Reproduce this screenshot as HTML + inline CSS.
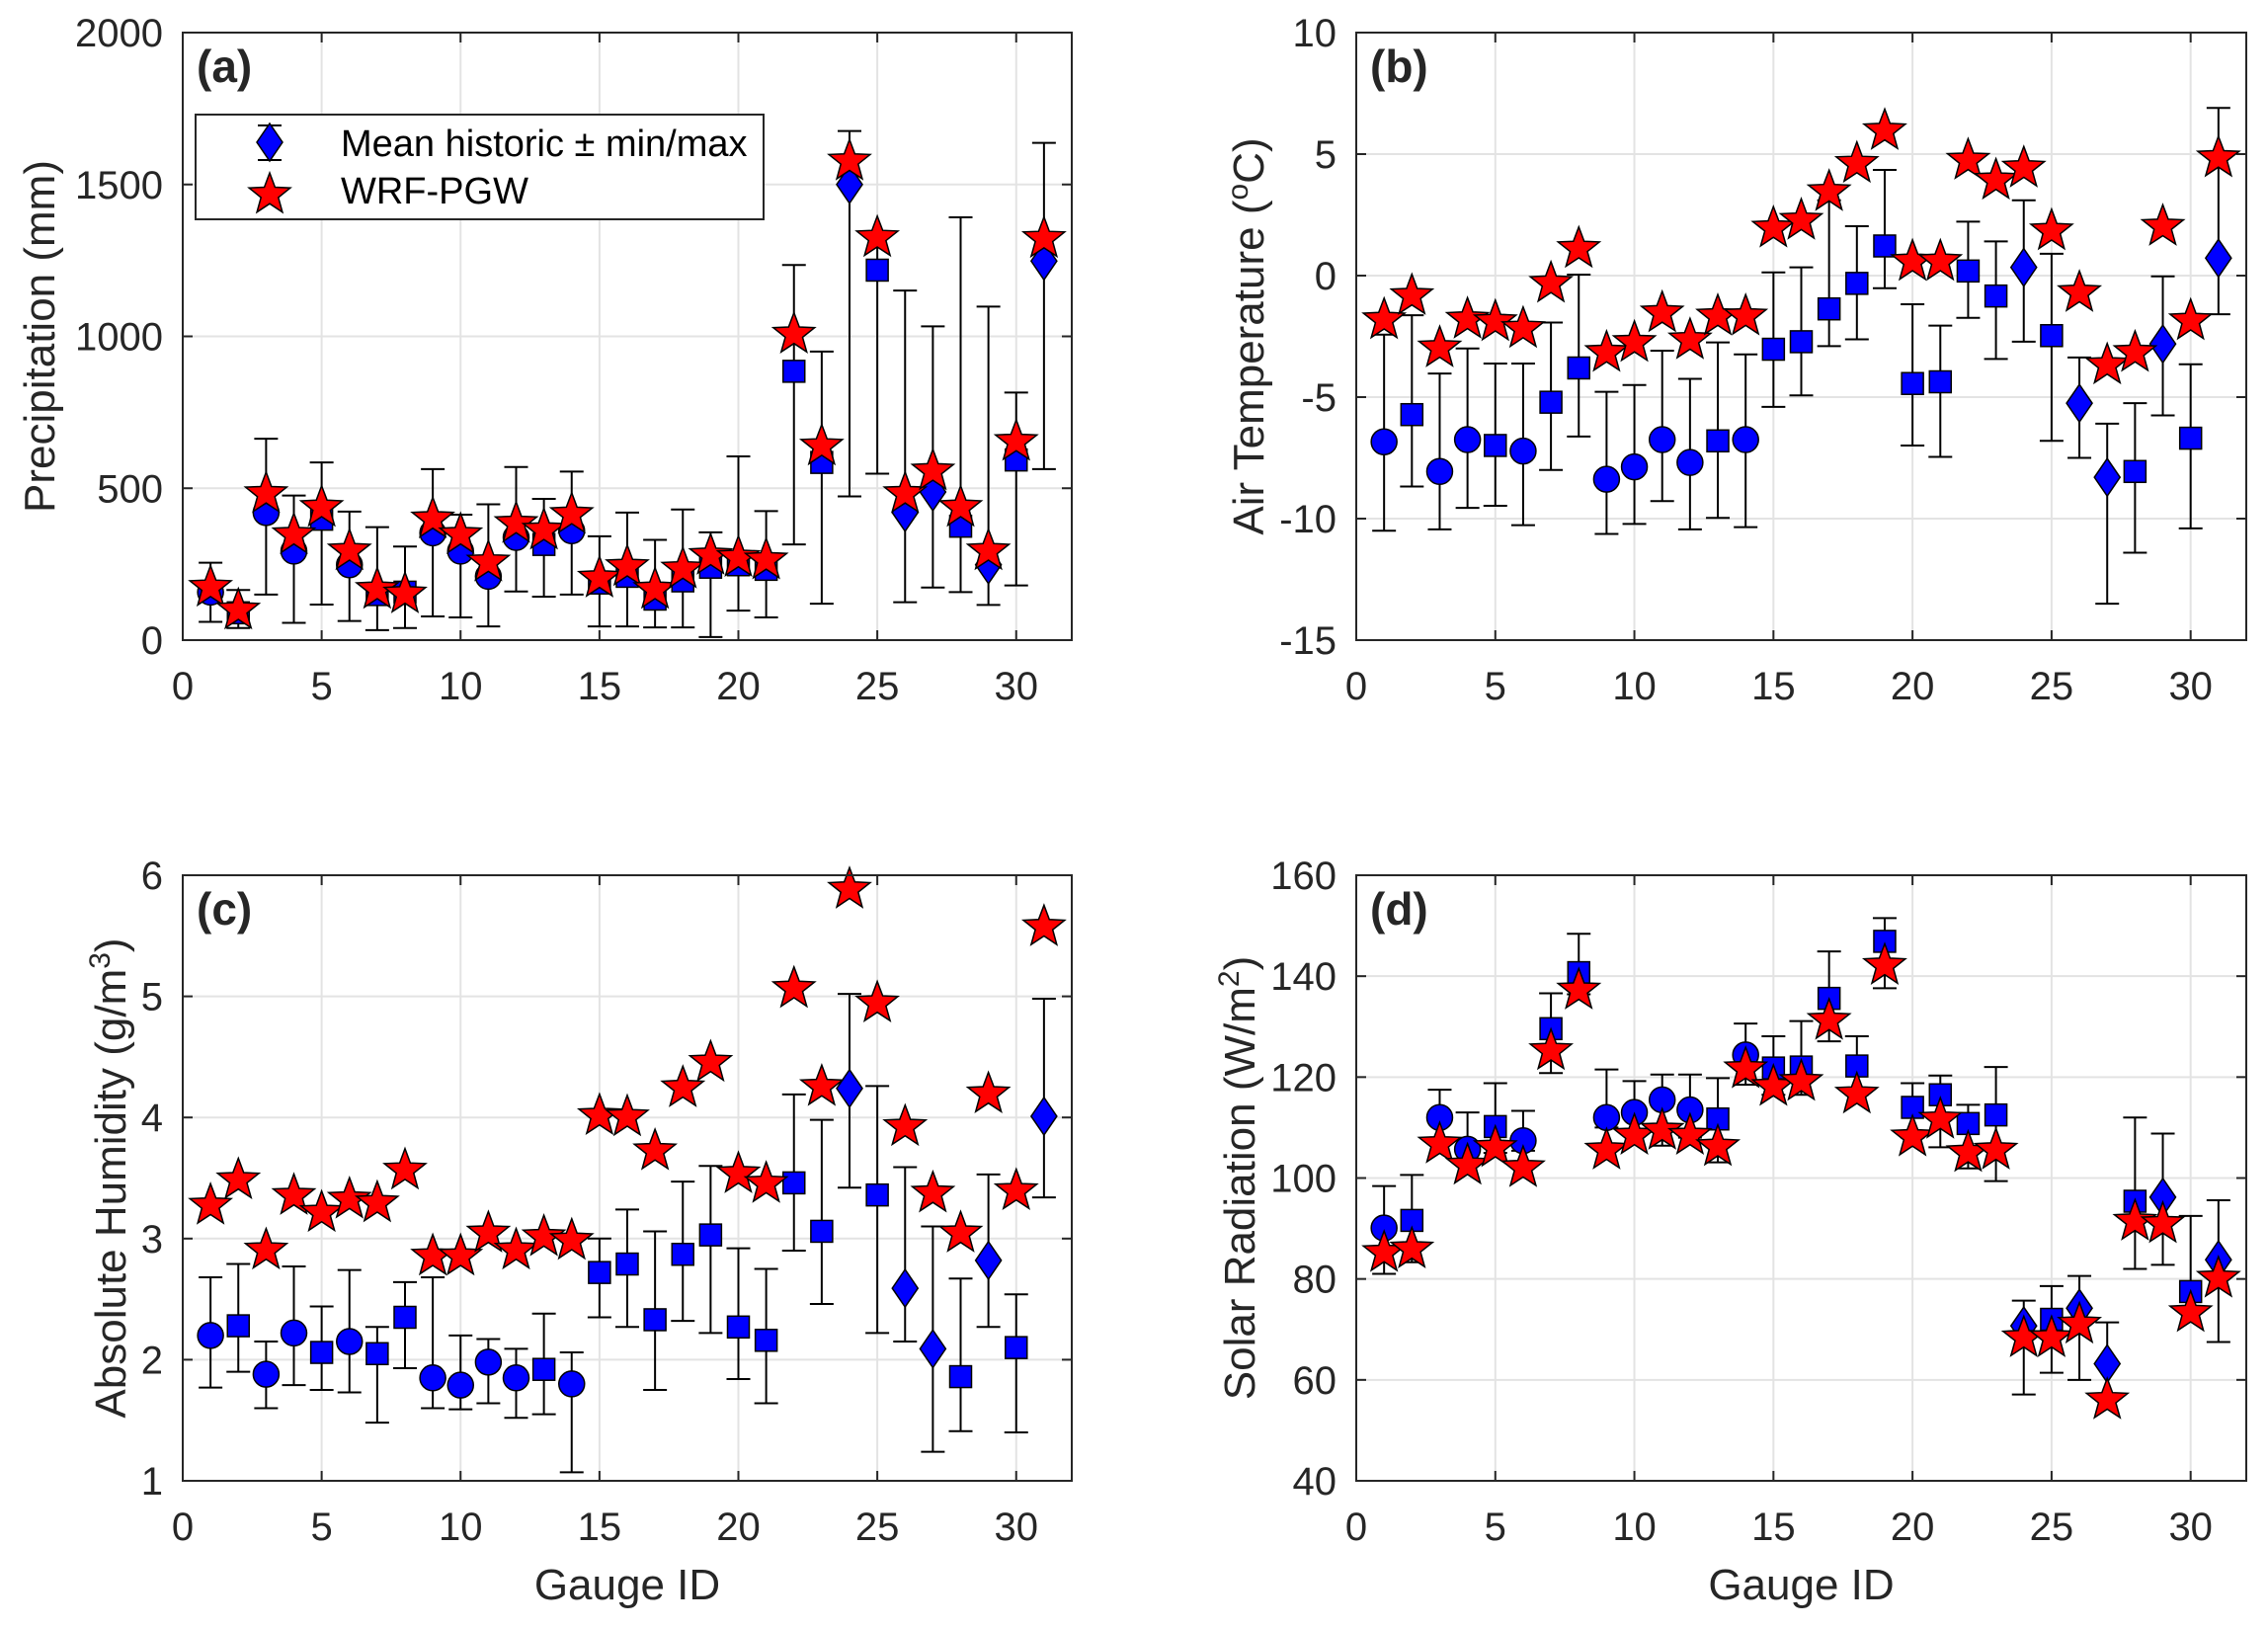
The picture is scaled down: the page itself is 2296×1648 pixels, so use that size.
<!DOCTYPE html>
<html><head><meta charset="utf-8"><style>
html,body{margin:0;padding:0;background:#fff;}
svg{display:block;font-family:"Liberation Sans",Arial,sans-serif;}
</style></head><body>
<svg id="fig" xmlns="http://www.w3.org/2000/svg" width="2296" height="1648" viewBox="0 0 2296 1648"></svg>
<script>
const gaugeIds=[1,2,3,4,5,6,7,8,9,10,11,12,13,14,15,16,17,18,19,20,21,22,23,24,25,26,27,28,29,30,31];
const markerTypes=['o','s','o','o','s','o','s','s','o','o','o','o','s','o','s','s','s','s','s','s','s','s','s','d','s','d','d','s','d','s','d'];

const precipMean=[158,90,420,293,398,248,150,158,353,293,210,338,315,360,188,210,135,195,240,248,233,885,585,1500,1218,420,488,375,248,593,1248];
const precipWrf=[180,105,488,353,443,300,173,158,405,353,263,390,368,420,210,248,173,240,285,278,270,1013,645,1583,1331,488,563,443,300,660,1328];
const precipHi=[255,165,663,476,585,423,372,308,563,413,447,570,465,555,342,420,330,430,355,605,425,1235,950,1676,1340,1151,1033,1392,1098,815,1637];
const precipLo=[60,40,150,57,117,63,33,40,78,75,45,160,143,150,45,45,42,42,10,97,75,315,120,473,548,125,173,158,116,180,563];

const tempMean=[-6.84,-5.72,-8.06,-6.75,-6.99,-7.22,-5.21,-3.8,-8.38,-7.87,-6.75,-7.69,-6.8,-6.75,-3.03,-2.72,-1.37,-0.32,1.22,-4.44,-4.37,0.19,-0.84,0.34,-2.47,-5.25,-8.3,-8.06,-2.81,-6.69,0.72];
const tempWrf=[-1.74,-0.75,-2.9,-1.72,-1.82,-2.1,-0.24,1.19,-3.09,-2.68,-1.46,-2.57,-1.59,-1.59,2.03,2.35,3.53,4.69,6.04,0.66,0.66,4.82,4.0,4.5,1.92,-0.62,-3.6,-3.09,2.1,-1.78,4.92];
const tempHi=[-2.43,-1.63,-4.03,-3.0,-3.62,-3.62,-1.93,0.04,-4.78,-4.5,-3.09,-4.25,-2.75,-3.24,0.13,0.34,3.1,2.03,4.35,-1.18,-2.06,2.22,1.41,3.1,0.9,-3.37,-6.09,-5.25,-0.03,-3.65,6.9];
const tempLo=[-10.5,-8.68,-10.44,-9.56,-9.47,-10.27,-8.0,-6.62,-10.63,-10.22,-9.28,-10.44,-9.97,-10.35,-5.4,-4.93,-2.9,-2.62,-0.52,-6.99,-7.46,-1.74,-3.43,-2.72,-6.8,-7.5,-13.5,-11.4,-5.75,-10.4,-1.59];

const humMean=[2.2,2.28,1.88,2.22,2.06,2.15,2.05,2.35,1.85,1.79,1.98,1.85,1.92,1.8,2.72,2.79,2.33,2.87,3.03,2.27,2.16,3.46,3.06,4.24,3.36,2.59,2.09,1.86,2.82,2.1,4.01];
const humWrf=[3.29,3.5,2.92,3.37,3.23,3.34,3.31,3.58,2.87,2.87,3.06,2.92,3.03,3.0,4.03,4.02,3.74,4.26,4.47,3.55,3.47,5.08,4.27,5.9,4.96,3.94,3.39,3.06,4.21,3.41,5.59];
const humHi=[2.68,2.79,2.15,2.77,2.44,2.74,2.27,2.64,2.68,2.2,2.17,2.09,2.38,2.06,3.0,3.24,3.06,3.47,3.6,2.92,2.75,4.19,3.98,5.02,4.26,3.59,3.1,2.67,3.53,2.54,4.98];
const humLo=[1.77,1.9,1.6,1.79,1.75,1.73,1.48,1.93,1.6,1.59,1.64,1.52,1.55,1.07,2.35,2.27,1.75,2.32,2.22,1.84,1.64,2.9,2.46,3.42,2.22,2.15,1.24,1.41,2.27,1.4,3.34];

const solMean=[90.1,91.6,112,105.7,110.2,107.4,129.6,140.7,112,113,115.5,113.5,111.7,124.4,121.8,122,135.6,122.2,146.9,114,116.5,110.8,112.5,70.7,72,74.2,63.2,95.4,96.2,77.5,83.8];
const solWrf=[85.6,86.3,107.1,102.9,106.4,102.4,125.6,137.6,105.9,108.8,109.8,108.8,106.6,122,118.5,119.5,131.6,117,142.5,108.5,112,105.4,105.9,68.7,68.7,71.4,56.4,91.8,91.3,73.7,80.5];
const solHi=[98.4,100.6,117.5,113,118.8,113.3,136.6,148.4,121.5,119.2,120.5,120.5,119.8,130.6,128.1,131.1,144.9,128.1,151.5,118.8,120.3,114.5,122,75.7,78.6,80.6,71.4,112,108.8,92.5,95.6];
const solLo=[81,83.3,108,103,105,105.4,120.8,136.4,110,108.7,106.4,108,103.1,118.5,116.5,116.5,127.1,116.5,137.6,108,106.1,101.9,99.4,57.1,61.4,60,56.1,82,82.8,73.7,67.5];

const xTicks=[0,5,10,15,20,25,30];
const ticksA=[0,500,1000,1500,2000];
const ticksB=[-15,-10,-5,0,5,10];
const ticksC=[1,2,3,4,5,6];
const ticksD=[40,60,80,100,120,140,160];

const NS='http://www.w3.org/2000/svg';
const svg=document.getElementById('fig');
function mk(tag,attrs,parent){const e=document.createElementNS(NS,tag);for(const k in attrs)e.setAttribute(k,attrs[k]);(parent||svg).appendChild(e);return e;}

function star(cx,cy,R){const r=R*0.42;let p=[];for(let i=0;i<10;i++){const a=-Math.PI/2+i*Math.PI/5;const rr=i%2?r:R;p.push((cx+rr*Math.cos(a)).toFixed(1)+','+(cy+rr*Math.sin(a)).toFixed(1));}return p.join(' ');}

function drawPanel(key,box,ymin,ymax,yTicks,mean,wrf,lo,hi,letter,titleParts,titleX,showX){
  const g=mk('g',{});
  
  
  const xs=v=>box.l+(v-0)/(32-0)*(box.r-box.l);
  const ys=v=>box.b-(v-ymin)/(ymax-ymin)*(box.b-box.t);
  mk('rect',{x:box.l,y:box.t,width:box.r-box.l,height:box.b-box.t,fill:'#fff'},g);
  // grid
  xTicks.forEach(t=>{const x=xs(t);const l=mk('line',{x1:x,x2:x,y1:box.t,y2:box.b,stroke:'#e3e3e3','stroke-width':2},g);
    });
  yTicks.forEach(t=>{const y=ys(t);const l=mk('line',{x1:box.l,x2:box.r,y1:y,y2:y,stroke:'#e3e3e3','stroke-width':2},g);
    });
  // ticks + labels
  xTicks.forEach(t=>{const x=xs(t);
    mk('line',{x1:x,x2:x,y1:box.b,y2:box.b-10,stroke:'#262626','stroke-width':2},g);
    mk('line',{x1:x,x2:x,y1:box.t,y2:box.t+10,stroke:'#262626','stroke-width':2},g);
    const tx=mk('text',{x:x,y:box.b+60,'font-size':40,'text-anchor':'middle',fill:'#262626'},g);tx.textContent=t;
    });
  yTicks.forEach(t=>{const y=ys(t);
    mk('line',{x1:box.l,x2:box.l+10,y1:y,y2:y,stroke:'#262626','stroke-width':2},g);
    mk('line',{x1:box.r,x2:box.r-10,y1:y,y2:y,stroke:'#262626','stroke-width':2},g);
    const tx=mk('text',{x:box.l-20,y:y+14,'font-size':40,'text-anchor':'end',fill:'#262626'},g);tx.textContent=t;
    });
  // error bars
  gaugeIds.forEach((id,i)=>{const x=xs(id);const yl=ys(lo[i]),yh=ys(hi[i]);
    const eb=mk('g',{stroke:'#000','stroke-width':2},g);
    
    mk('line',{x1:x,x2:x,y1:yl,y2:yh},eb);
    mk('line',{x1:x-12,x2:x+12,y1:yl,y2:yl},eb);
    mk('line',{x1:x-12,x2:x+12,y1:yh,y2:yh},eb);});
  // mean markers
  gaugeIds.forEach((id,i)=>{const x=xs(id),y=ys(mean[i]);let m;const t=markerTypes[i];
    if(t==='o')m=mk('circle',{cx:x,cy:y,r:13,fill:'#0000ff',stroke:'#000','stroke-width':1.5},g);
    else if(t==='s')m=mk('rect',{x:x-11,y:y-11,width:22,height:22,fill:'#0000ff',stroke:'#000','stroke-width':1.5},g);
    else m=mk('polygon',{points:`${x},${y-19} ${x+13},${y} ${x},${y+19} ${x-13},${y}`,fill:'#0000ff',stroke:'#000','stroke-width':1.5},g);
    });
  // WRF stars
  gaugeIds.forEach((id,i)=>{const s=mk('polygon',{points:star(xs(id),ys(wrf[i])+2,22),fill:'#ff0000',stroke:'#000','stroke-width':1.5},g);
    });
  mk('rect',{x:box.l,y:box.t,width:box.r-box.l,height:box.b-box.t,fill:'none',stroke:'#262626','stroke-width':2},g);
  const pl=mk('text',{x:box.l+14,y:box.t+50,'font-size':46,'font-weight':'bold',fill:'#262626'},g);pl.textContent=letter;
  
  const cy=(box.t+box.b)/2;
  const yt=mk('text',{x:titleX,y:cy,'font-size':44,'text-anchor':'middle',fill:'#262626',transform:`rotate(-90 ${titleX} ${cy})`},g);
  
  titleParts.forEach(p=>{const ts=mk('tspan',{},yt);ts.textContent=p[0];if(p[1]==='sup'){ts.setAttribute('baseline-shift','super');ts.setAttribute('font-size','30');}});
  if(showX){const xt=mk('text',{x:(box.l+box.r)/2,y:box.b+120,'font-size':44,'text-anchor':'middle',fill:'#262626'},g);xt.textContent='Gauge ID';
    }
  return g;
}

drawPanel('a',{l:185,r:1085,t:33,b:648},0,2000,ticksA,precipMean,precipWrf,precipLo,precipHi,'(a)',[['Precipitation (mm)']],55,false);
drawPanel('b',{l:1373,r:2274,t:33,b:648},-15,10,ticksB,tempMean,tempWrf,tempLo,tempHi,'(b)',[['Air Temperature ('],['o','sup'],['C)']],1279,false);
drawPanel('c',{l:185,r:1085,t:886,b:1499},1,6,ticksC,humMean,humWrf,humLo,humHi,'(c)',[['Absolute Humidity (g/m'],['3','sup'],[')']],127,true);
drawPanel('d',{l:1373,r:2274,t:886,b:1499},40,160,ticksD,solMean,solWrf,solLo,solHi,'(d)',[['Solar Radiation (W/m'],['2','sup'],[')']],1270,true);

// legend
const lg=mk('g',{});


mk('rect',{x:198,y:116,width:575,height:106,fill:'#fff',stroke:'#262626','stroke-width':2},lg);
const e1=mk('g',{},lg);


mk('line',{x1:273,x2:273,y1:127,y2:162,stroke:'#000','stroke-width':2},e1);
mk('line',{x1:261,x2:285,y1:127,y2:127,stroke:'#000','stroke-width':2},e1);
mk('line',{x1:261,x2:285,y1:162,y2:162,stroke:'#000','stroke-width':2},e1);
mk('polygon',{points:'273,125 286,144 273,163 260,144',fill:'#0000ff',stroke:'#000','stroke-width':1.5},e1);
const t1=mk('text',{x:345,y:158,'font-size':38,fill:'#000'},e1);t1.textContent='Mean historic \u00b1 min/max';
const e2=mk('g',{},lg);


mk('polygon',{points:star(273,197,22),fill:'#ff0000',stroke:'#000','stroke-width':1.5},e2);
const t2=mk('text',{x:345,y:206,'font-size':38,fill:'#000'},e2);t2.textContent='WRF-PGW';
</script>
</body></html>
